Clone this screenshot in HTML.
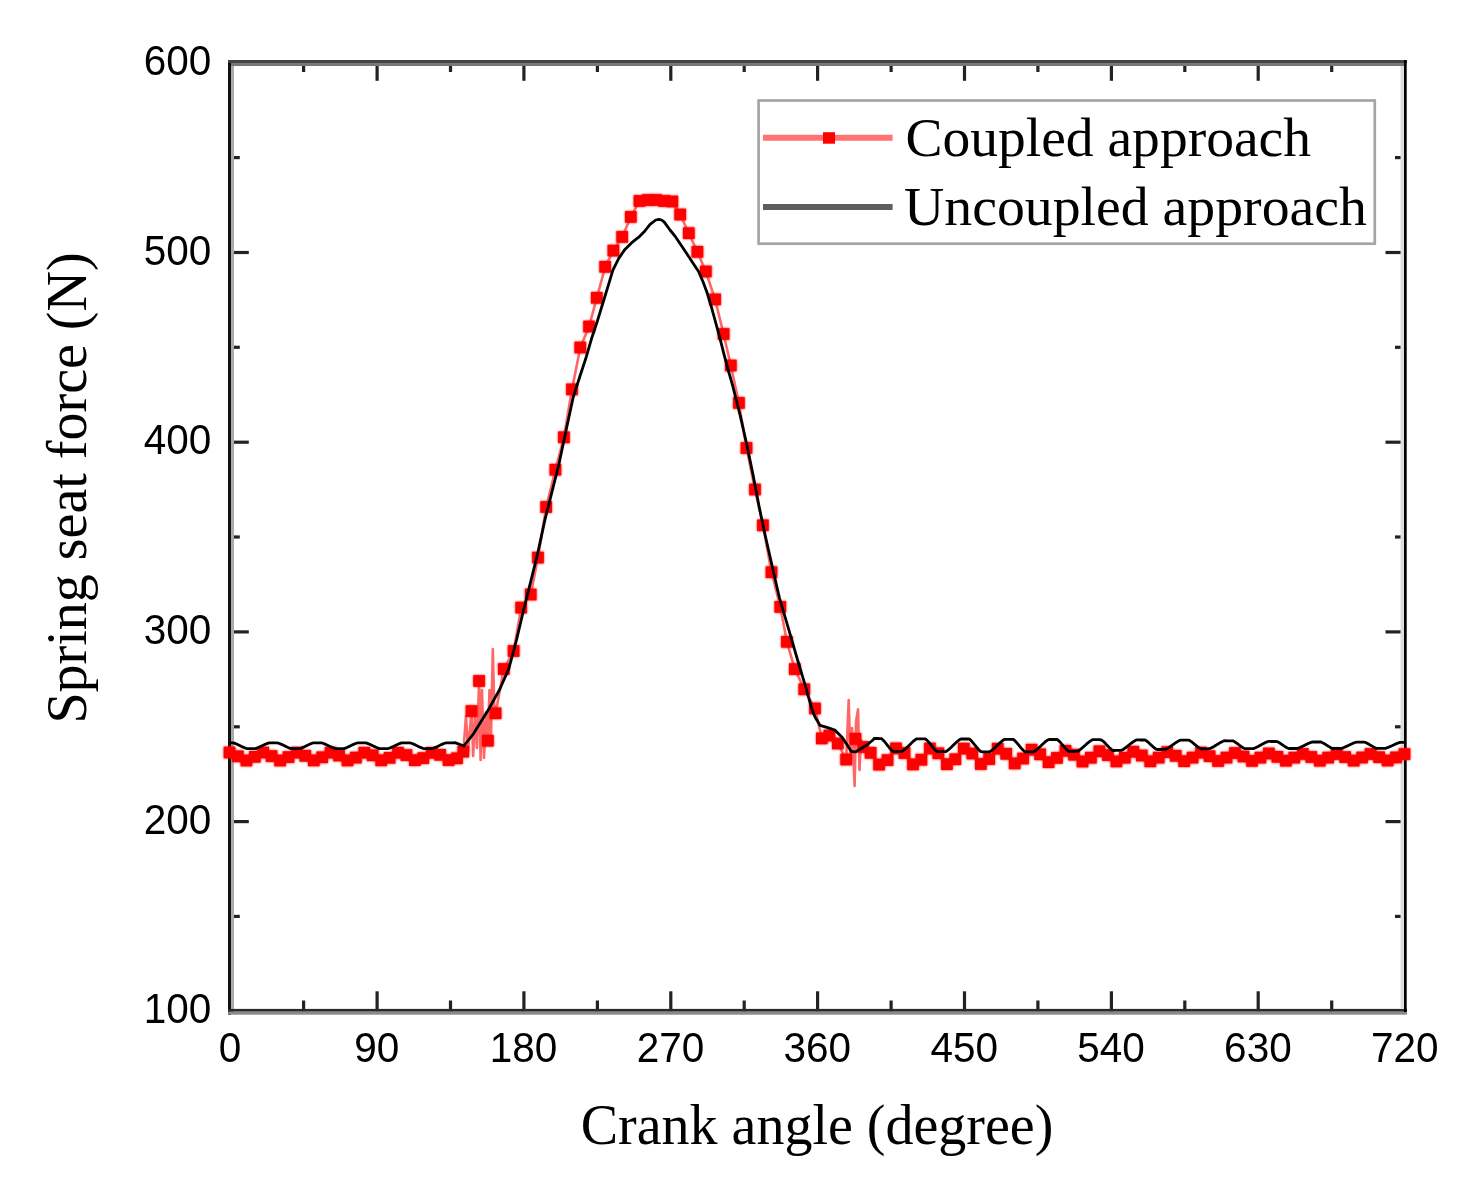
<!DOCTYPE html>
<html><head><meta charset="utf-8"><style>html,body{margin:0;padding:0;background:#fff;}svg{display:block;}</style></head>
<body><svg width="1470" height="1188" viewBox="0 0 1470 1188">
<defs><filter id="halo" x="-5%" y="-5%" width="110%" height="110%"><feGaussianBlur in="SourceGraphic" stdDeviation="1.3" result="bl"/><feMerge><feMergeNode in="bl"/><feMergeNode in="SourceGraphic"/></feMerge></filter></defs>
<rect width="1470" height="1188" fill="#fff"/>
<g fill="none" stroke="#222" stroke-width="3.2"><line x1="303.6" y1="1011.3" x2="303.6" y2="1000.5"/><line x1="303.6" y1="62.8" x2="303.6" y2="72.0"/><line x1="377.1" y1="1011.3" x2="377.1" y2="991.3"/><line x1="377.1" y1="62.8" x2="377.1" y2="80.8"/><line x1="450.5" y1="1011.3" x2="450.5" y2="1000.5"/><line x1="450.5" y1="62.8" x2="450.5" y2="72.0"/><line x1="523.9" y1="1011.3" x2="523.9" y2="991.3"/><line x1="523.9" y1="62.8" x2="523.9" y2="80.8"/><line x1="597.4" y1="1011.3" x2="597.4" y2="1000.5"/><line x1="597.4" y1="62.8" x2="597.4" y2="72.0"/><line x1="670.8" y1="1011.3" x2="670.8" y2="991.3"/><line x1="670.8" y1="62.8" x2="670.8" y2="80.8"/><line x1="744.2" y1="1011.3" x2="744.2" y2="1000.5"/><line x1="744.2" y1="62.8" x2="744.2" y2="72.0"/><line x1="817.6" y1="1011.3" x2="817.6" y2="991.3"/><line x1="817.6" y1="62.8" x2="817.6" y2="80.8"/><line x1="891.1" y1="1011.3" x2="891.1" y2="1000.5"/><line x1="891.1" y1="62.8" x2="891.1" y2="72.0"/><line x1="964.5" y1="1011.3" x2="964.5" y2="991.3"/><line x1="964.5" y1="62.8" x2="964.5" y2="80.8"/><line x1="1037.9" y1="1011.3" x2="1037.9" y2="1000.5"/><line x1="1037.9" y1="62.8" x2="1037.9" y2="72.0"/><line x1="1111.4" y1="1011.3" x2="1111.4" y2="991.3"/><line x1="1111.4" y1="62.8" x2="1111.4" y2="80.8"/><line x1="1184.8" y1="1011.3" x2="1184.8" y2="1000.5"/><line x1="1184.8" y1="62.8" x2="1184.8" y2="72.0"/><line x1="1258.2" y1="1011.3" x2="1258.2" y2="991.3"/><line x1="1258.2" y1="62.8" x2="1258.2" y2="80.8"/><line x1="1331.7" y1="1011.3" x2="1331.7" y2="1000.5"/><line x1="1331.7" y1="62.8" x2="1331.7" y2="72.0"/><line x1="230.3" y1="916.4" x2="239.8" y2="916.4"/><line x1="1405" y1="916.4" x2="1395.0" y2="916.4"/><line x1="230.3" y1="821.6" x2="248.8" y2="821.6"/><line x1="1405" y1="821.6" x2="1385.5" y2="821.6"/><line x1="230.3" y1="726.8" x2="239.8" y2="726.8"/><line x1="1405" y1="726.8" x2="1395.0" y2="726.8"/><line x1="230.3" y1="631.9" x2="248.8" y2="631.9"/><line x1="1405" y1="631.9" x2="1385.5" y2="631.9"/><line x1="230.3" y1="537.0" x2="239.8" y2="537.0"/><line x1="1405" y1="537.0" x2="1395.0" y2="537.0"/><line x1="230.3" y1="442.2" x2="248.8" y2="442.2"/><line x1="1405" y1="442.2" x2="1385.5" y2="442.2"/><line x1="230.3" y1="347.3" x2="239.8" y2="347.3"/><line x1="1405" y1="347.3" x2="1395.0" y2="347.3"/><line x1="230.3" y1="252.5" x2="248.8" y2="252.5"/><line x1="1405" y1="252.5" x2="1385.5" y2="252.5"/><line x1="230.3" y1="157.6" x2="239.8" y2="157.6"/><line x1="1405" y1="157.6" x2="1395.0" y2="157.6"/></g>
<rect x="228" y="60" width="3" height="955" fill="#111"/>
<rect x="231" y="63" width="3" height="949" fill="#aaa"/>
<rect x="228" y="60" width="1179" height="3" fill="#444"/>
<rect x="231" y="63" width="1173" height="3" fill="#777"/>
<rect x="228" y="1008.9" width="1179" height="2.8" fill="#2a2a2a"/>
<rect x="228" y="1011.7" width="1179" height="3" fill="#8a8a8a"/>
<rect x="1400.5" y="66" width="3.5" height="943" fill="#ddd"/>
<rect x="1404" y="60" width="2.7" height="952" fill="#000"/>
<polyline points="229.5,752.5 237.9,756.3 246.4,760.5 254.8,756.8 263.2,752.5 271.6,756.1 280.1,760.5 288.5,757.1 296.9,752.6 305.3,755.8 313.8,760.4 322.2,757.3 330.6,752.6 339.0,755.5 347.5,760.4 355.9,757.6 364.3,752.7 372.7,755.3 381.2,760.3 389.6,757.8 398.0,752.7 406.4,755.1 414.9,760.2 423.3,758.1 431.7,752.8 440.1,754.8 448.6,760.1 457.0,758.3 463.3,751.6 466.0,716.0 468.0,752.0 471.5,711.1 473.2,756.0 475.0,716.0 477.0,748.0 479.1,681.0 480.6,760.0 482.0,690.0 484.0,758.0 486.0,712.0 487.9,740.7 489.5,690.0 491.0,736.0 492.8,649.0 494.2,705.0 495.6,713.3 503.8,669.0 513.6,651.0 521.2,607.6 530.7,594.5 538.0,557.6 546.2,507.0 555.4,469.7 563.9,437.3 572.0,389.4 580.3,347.5 589.1,326.5 596.8,297.8 605.2,266.8 613.4,250.6 622.2,236.9 630.8,216.9 639.5,201.0 647.8,200.0 656.0,200.0 664.3,201.0 672.3,201.5 680.2,214.5 688.8,233.2 697.4,251.8 705.8,271.5 715.1,299.4 723.6,334.0 730.8,365.5 738.9,402.9 746.5,448.0 755.0,489.5 762.9,525.3 771.5,572.2 780.3,606.9 786.9,641.8 794.8,669.1 804.3,689.3 815.0,708.5 821.8,738.4 829.4,735.5 837.8,743.5 846.2,759.5 848.7,700.0 850.5,762.0 852.0,728.0 854.6,786.0 856.0,722.0 858.0,709.4 859.5,770.0 861.0,740.0 863.2,747.0 870.6,752.8 879.1,764.6 887.5,760.1 896.0,748.4 904.5,753.0 913.0,764.4 921.4,759.7 929.9,748.5 938.4,753.3 946.9,764.2 955.3,759.3 963.8,748.6 972.3,753.5 980.8,764.0 989.2,759.0 997.7,748.7 1006.2,753.8 1014.7,763.4 1023.1,758.5 1031.6,749.7 1040.1,754.3 1048.6,762.2 1057.0,757.9 1065.5,750.8 1074.0,754.7 1082.5,761.5 1090.9,757.7 1099.4,751.3 1107.9,755.1 1116.4,761.4 1124.8,757.7 1133.3,751.7 1141.8,755.5 1150.3,761.3 1158.7,757.6 1167.2,752.1 1175.7,755.8 1184.2,761.2 1192.6,757.6 1201.1,752.6 1209.6,756.2 1218.1,761.0 1226.5,757.6 1235.0,753.0 1243.5,756.5 1252.0,760.9 1260.4,757.6 1268.9,753.5 1277.4,756.8 1285.9,760.7 1294.3,757.6 1302.8,753.9 1311.3,757.0 1319.8,760.7 1328.2,757.6 1336.7,754.0 1345.2,757.1 1353.7,760.6 1362.1,757.5 1370.6,754.0 1379.1,757.2 1387.6,760.5 1396.0,757.4 1404.5,754.1" fill="none" stroke="#ff0000" stroke-opacity="0.6" stroke-width="2.6" stroke-linejoin="round"/>
<g fill="#ff0000" filter="url(#halo)"><rect x="223.7" y="746.7" width="11.6" height="11.6"/><rect x="232.1" y="750.5" width="11.6" height="11.6"/><rect x="240.6" y="754.7" width="11.6" height="11.6"/><rect x="249.0" y="751.0" width="11.6" height="11.6"/><rect x="257.4" y="746.7" width="11.6" height="11.6"/><rect x="265.8" y="750.3" width="11.6" height="11.6"/><rect x="274.3" y="754.7" width="11.6" height="11.6"/><rect x="282.7" y="751.3" width="11.6" height="11.6"/><rect x="291.1" y="746.8" width="11.6" height="11.6"/><rect x="299.5" y="750.0" width="11.6" height="11.6"/><rect x="308.0" y="754.6" width="11.6" height="11.6"/><rect x="316.4" y="751.5" width="11.6" height="11.6"/><rect x="324.8" y="746.8" width="11.6" height="11.6"/><rect x="333.2" y="749.7" width="11.6" height="11.6"/><rect x="341.7" y="754.6" width="11.6" height="11.6"/><rect x="350.1" y="751.8" width="11.6" height="11.6"/><rect x="358.5" y="746.9" width="11.6" height="11.6"/><rect x="366.9" y="749.5" width="11.6" height="11.6"/><rect x="375.4" y="754.5" width="11.6" height="11.6"/><rect x="383.8" y="752.0" width="11.6" height="11.6"/><rect x="392.2" y="746.9" width="11.6" height="11.6"/><rect x="400.6" y="749.3" width="11.6" height="11.6"/><rect x="409.1" y="754.4" width="11.6" height="11.6"/><rect x="417.5" y="752.3" width="11.6" height="11.6"/><rect x="425.9" y="747.0" width="11.6" height="11.6"/><rect x="434.3" y="749.0" width="11.6" height="11.6"/><rect x="442.8" y="754.3" width="11.6" height="11.6"/><rect x="451.2" y="752.5" width="11.6" height="11.6"/><rect x="457.5" y="745.8" width="11.6" height="11.6"/><rect x="465.7" y="705.3" width="11.6" height="11.6"/><rect x="473.3" y="675.2" width="11.6" height="11.6"/><rect x="482.1" y="734.9" width="11.6" height="11.6"/><rect x="489.8" y="707.5" width="11.6" height="11.6"/><rect x="498.0" y="663.2" width="11.6" height="11.6"/><rect x="507.8" y="645.2" width="11.6" height="11.6"/><rect x="515.4" y="601.8" width="11.6" height="11.6"/><rect x="524.9" y="588.7" width="11.6" height="11.6"/><rect x="532.2" y="551.8" width="11.6" height="11.6"/><rect x="540.4" y="501.2" width="11.6" height="11.6"/><rect x="549.6" y="463.9" width="11.6" height="11.6"/><rect x="558.1" y="431.5" width="11.6" height="11.6"/><rect x="566.2" y="383.6" width="11.6" height="11.6"/><rect x="574.5" y="341.7" width="11.6" height="11.6"/><rect x="583.3" y="320.7" width="11.6" height="11.6"/><rect x="591.0" y="292.0" width="11.6" height="11.6"/><rect x="599.4" y="261.0" width="11.6" height="11.6"/><rect x="607.6" y="244.8" width="11.6" height="11.6"/><rect x="616.4" y="231.1" width="11.6" height="11.6"/><rect x="625.0" y="211.1" width="11.6" height="11.6"/><rect x="633.7" y="195.2" width="11.6" height="11.6"/><rect x="642.0" y="194.2" width="11.6" height="11.6"/><rect x="650.2" y="194.2" width="11.6" height="11.6"/><rect x="658.5" y="195.2" width="11.6" height="11.6"/><rect x="666.5" y="195.7" width="11.6" height="11.6"/><rect x="674.4" y="208.7" width="11.6" height="11.6"/><rect x="683.0" y="227.4" width="11.6" height="11.6"/><rect x="691.6" y="246.0" width="11.6" height="11.6"/><rect x="700.0" y="265.7" width="11.6" height="11.6"/><rect x="709.3" y="293.6" width="11.6" height="11.6"/><rect x="717.8" y="328.2" width="11.6" height="11.6"/><rect x="725.0" y="359.7" width="11.6" height="11.6"/><rect x="733.1" y="397.1" width="11.6" height="11.6"/><rect x="740.7" y="442.2" width="11.6" height="11.6"/><rect x="749.2" y="483.7" width="11.6" height="11.6"/><rect x="757.1" y="519.5" width="11.6" height="11.6"/><rect x="765.7" y="566.4" width="11.6" height="11.6"/><rect x="774.5" y="601.1" width="11.6" height="11.6"/><rect x="781.1" y="636.0" width="11.6" height="11.6"/><rect x="789.0" y="663.3" width="11.6" height="11.6"/><rect x="798.5" y="683.5" width="11.6" height="11.6"/><rect x="809.2" y="702.7" width="11.6" height="11.6"/><rect x="816.0" y="732.6" width="11.6" height="11.6"/><rect x="823.6" y="729.7" width="11.6" height="11.6"/><rect x="832.0" y="737.7" width="11.6" height="11.6"/><rect x="840.4" y="753.7" width="11.6" height="11.6"/><rect x="849.7" y="733.0" width="11.6" height="11.6"/><rect x="857.4" y="741.2" width="11.6" height="11.6"/><rect x="864.8" y="747.0" width="11.6" height="11.6"/><rect x="873.3" y="758.8" width="11.6" height="11.6"/><rect x="881.7" y="754.3" width="11.6" height="11.6"/><rect x="890.2" y="742.6" width="11.6" height="11.6"/><rect x="898.7" y="747.2" width="11.6" height="11.6"/><rect x="907.2" y="758.6" width="11.6" height="11.6"/><rect x="915.6" y="753.9" width="11.6" height="11.6"/><rect x="924.1" y="742.7" width="11.6" height="11.6"/><rect x="932.6" y="747.5" width="11.6" height="11.6"/><rect x="941.1" y="758.4" width="11.6" height="11.6"/><rect x="949.5" y="753.5" width="11.6" height="11.6"/><rect x="958.0" y="742.8" width="11.6" height="11.6"/><rect x="966.5" y="747.7" width="11.6" height="11.6"/><rect x="975.0" y="758.2" width="11.6" height="11.6"/><rect x="983.4" y="753.2" width="11.6" height="11.6"/><rect x="991.9" y="742.9" width="11.6" height="11.6"/><rect x="1000.4" y="748.0" width="11.6" height="11.6"/><rect x="1008.9" y="757.6" width="11.6" height="11.6"/><rect x="1017.3" y="752.7" width="11.6" height="11.6"/><rect x="1025.8" y="743.9" width="11.6" height="11.6"/><rect x="1034.3" y="748.5" width="11.6" height="11.6"/><rect x="1042.8" y="756.4" width="11.6" height="11.6"/><rect x="1051.2" y="752.1" width="11.6" height="11.6"/><rect x="1059.7" y="745.0" width="11.6" height="11.6"/><rect x="1068.2" y="748.9" width="11.6" height="11.6"/><rect x="1076.7" y="755.7" width="11.6" height="11.6"/><rect x="1085.1" y="751.9" width="11.6" height="11.6"/><rect x="1093.6" y="745.5" width="11.6" height="11.6"/><rect x="1102.1" y="749.3" width="11.6" height="11.6"/><rect x="1110.6" y="755.6" width="11.6" height="11.6"/><rect x="1119.0" y="751.9" width="11.6" height="11.6"/><rect x="1127.5" y="745.9" width="11.6" height="11.6"/><rect x="1136.0" y="749.7" width="11.6" height="11.6"/><rect x="1144.5" y="755.5" width="11.6" height="11.6"/><rect x="1152.9" y="751.8" width="11.6" height="11.6"/><rect x="1161.4" y="746.3" width="11.6" height="11.6"/><rect x="1169.9" y="750.0" width="11.6" height="11.6"/><rect x="1178.4" y="755.4" width="11.6" height="11.6"/><rect x="1186.8" y="751.8" width="11.6" height="11.6"/><rect x="1195.3" y="746.8" width="11.6" height="11.6"/><rect x="1203.8" y="750.4" width="11.6" height="11.6"/><rect x="1212.3" y="755.2" width="11.6" height="11.6"/><rect x="1220.7" y="751.8" width="11.6" height="11.6"/><rect x="1229.2" y="747.2" width="11.6" height="11.6"/><rect x="1237.7" y="750.7" width="11.6" height="11.6"/><rect x="1246.2" y="755.1" width="11.6" height="11.6"/><rect x="1254.6" y="751.8" width="11.6" height="11.6"/><rect x="1263.1" y="747.7" width="11.6" height="11.6"/><rect x="1271.6" y="751.0" width="11.6" height="11.6"/><rect x="1280.1" y="754.9" width="11.6" height="11.6"/><rect x="1288.5" y="751.8" width="11.6" height="11.6"/><rect x="1297.0" y="748.1" width="11.6" height="11.6"/><rect x="1305.5" y="751.2" width="11.6" height="11.6"/><rect x="1314.0" y="754.9" width="11.6" height="11.6"/><rect x="1322.4" y="751.8" width="11.6" height="11.6"/><rect x="1330.9" y="748.2" width="11.6" height="11.6"/><rect x="1339.4" y="751.3" width="11.6" height="11.6"/><rect x="1347.9" y="754.8" width="11.6" height="11.6"/><rect x="1356.3" y="751.7" width="11.6" height="11.6"/><rect x="1364.8" y="748.2" width="11.6" height="11.6"/><rect x="1373.3" y="751.4" width="11.6" height="11.6"/><rect x="1381.8" y="754.7" width="11.6" height="11.6"/><rect x="1390.2" y="751.6" width="11.6" height="11.6"/><rect x="1398.7" y="748.3" width="11.6" height="11.6"/></g>
<polyline points="230.0,742.9 230.5,742.9 231.0,742.9 231.5,742.9 232.0,742.9 232.5,742.9 233.0,742.9 233.5,742.9 234.0,743.1 234.5,743.2 235.0,743.4 235.5,743.6 236.0,743.8 236.5,744.0 237.0,744.2 237.5,744.5 238.0,744.7 238.5,744.9 239.0,745.2 239.5,745.4 240.0,745.7 240.5,745.9 241.0,746.2 241.5,746.4 242.0,746.7 242.5,746.9 243.0,747.1 243.5,747.3 244.0,747.6 244.5,747.8 245.0,748.0 245.5,748.1 246.0,748.3 246.5,748.5 247.0,748.6 247.5,748.6 248.0,748.6 248.5,748.6 249.0,748.6 249.5,748.6 250.0,748.6 250.5,748.6 251.0,748.6 251.5,748.6 252.0,748.6 252.5,748.6 253.0,748.6 253.5,748.6 254.0,748.6 254.5,748.6 255.0,748.6 255.5,748.6 256.0,748.4 256.5,748.3 257.0,748.1 257.5,747.9 258.0,747.7 258.5,747.5 259.0,747.3 259.5,747.1 260.0,746.8 260.5,746.6 261.0,746.4 261.5,746.1 262.0,745.9 262.5,745.6 263.0,745.4 263.5,745.1 264.0,744.9 264.5,744.7 265.0,744.4 265.5,744.2 266.0,744.0 266.5,743.8 267.0,743.6 267.5,743.4 268.0,743.2 268.5,743.1 269.0,742.9 269.5,742.9 270.0,742.9 270.5,742.9 271.0,742.9 271.5,742.9 272.0,742.9 272.5,742.9 273.0,742.9 273.5,742.9 274.0,742.9 274.5,742.9 275.0,742.9 275.5,742.9 276.0,742.9 276.5,742.9 277.0,742.9 277.5,742.9 278.0,743.0 278.5,743.2 279.0,743.4 279.5,743.5 280.0,743.7 280.5,743.9 281.0,744.2 281.5,744.4 282.0,744.6 282.5,744.8 283.0,745.1 283.5,745.3 284.0,745.6 284.5,745.8 285.0,746.1 285.5,746.3 286.0,746.6 286.5,746.8 287.0,747.0 287.5,747.3 288.0,747.5 288.5,747.7 289.0,747.9 289.5,748.1 290.0,748.3 290.5,748.4 291.0,748.6 291.5,748.6 292.0,748.6 292.5,748.6 293.0,748.6 293.5,748.6 294.0,748.6 294.5,748.6 295.0,748.6 295.5,748.6 296.0,748.6 296.5,748.6 297.0,748.6 297.5,748.6 298.0,748.6 298.5,748.6 299.0,748.6 299.5,748.6 300.0,748.5 300.5,748.4 301.0,748.2 301.5,748.0 302.0,747.8 302.5,747.6 303.0,747.4 303.5,747.2 304.0,746.9 304.5,746.7 305.0,746.5 305.5,746.2 306.0,746.0 306.5,745.7 307.0,745.5 307.5,745.2 308.0,745.0 308.5,744.8 309.0,744.5 309.5,744.3 310.0,744.1 310.5,743.9 311.0,743.7 311.5,743.5 312.0,743.3 312.5,743.1 313.0,743.0 313.5,742.9 314.0,742.9 314.5,742.9 315.0,742.9 315.5,742.9 316.0,742.9 316.5,742.9 317.0,742.9 317.5,742.9 318.0,742.9 318.5,742.9 319.0,742.9 319.5,742.9 320.0,742.9 320.5,742.9 321.0,742.9 321.5,742.9 322.0,743.0 322.5,743.1 323.0,743.3 323.5,743.5 324.0,743.7 324.5,743.9 325.0,744.1 325.5,744.3 326.0,744.5 326.5,744.8 327.0,745.0 327.5,745.2 328.0,745.5 328.5,745.7 329.0,746.0 329.5,746.2 330.0,746.5 330.5,746.7 331.0,746.9 331.5,747.2 332.0,747.4 332.5,747.6 333.0,747.8 333.5,748.0 334.0,748.2 334.5,748.4 335.0,748.5 335.5,748.6 336.0,748.6 336.5,748.6 337.0,748.6 337.5,748.6 338.0,748.6 338.5,748.6 339.0,748.6 339.5,748.6 340.0,748.6 340.5,748.6 341.0,748.6 341.5,748.6 342.0,748.6 342.5,748.6 343.0,748.6 343.5,748.6 344.0,748.6 344.5,748.4 345.0,748.3 345.5,748.1 346.0,747.9 346.5,747.7 347.0,747.5 347.5,747.3 348.0,747.0 348.5,746.8 349.0,746.6 349.5,746.3 350.0,746.1 350.5,745.8 351.0,745.6 351.5,745.3 352.0,745.1 352.5,744.8 353.0,744.6 353.5,744.4 354.0,744.2 354.5,743.9 355.0,743.7 355.5,743.5 356.0,743.4 356.5,743.2 357.0,743.0 357.5,742.9 358.0,742.9 358.5,742.9 359.0,742.9 359.5,742.9 360.0,742.9 360.5,742.9 361.0,742.9 361.5,742.9 362.0,742.9 362.5,742.9 363.0,742.9 363.5,742.9 364.0,742.9 364.5,742.9 365.0,742.9 365.5,742.9 366.0,742.9 366.5,743.1 367.0,743.2 367.5,743.4 368.0,743.6 368.5,743.8 369.0,744.0 369.5,744.2 370.0,744.4 370.5,744.7 371.0,744.9 371.5,745.1 372.0,745.4 372.5,745.6 373.0,745.9 373.5,746.1 374.0,746.4 374.5,746.6 375.0,746.8 375.5,747.1 376.0,747.3 376.5,747.5 377.0,747.7 377.5,747.9 378.0,748.1 378.5,748.3 379.0,748.4 379.5,748.6 380.0,748.6 380.5,748.6 381.0,748.6 381.5,748.6 382.0,748.6 382.5,748.6 383.0,748.6 383.5,748.6 384.0,748.6 384.5,748.6 385.0,748.6 385.5,748.6 386.0,748.6 386.5,748.6 387.0,748.6 387.5,748.6 388.0,748.6 388.5,748.5 389.0,748.3 389.5,748.1 390.0,748.0 390.5,747.8 391.0,747.6 391.5,747.3 392.0,747.1 392.5,746.9 393.0,746.7 393.5,746.4 394.0,746.2 394.5,745.9 395.0,745.7 395.5,745.4 396.0,745.2 396.5,744.9 397.0,744.7 397.5,744.5 398.0,744.2 398.5,744.0 399.0,743.8 399.5,743.6 400.0,743.4 400.5,743.2 401.0,743.1 401.5,742.9 402.0,742.9 402.5,742.9 403.0,742.9 403.5,742.9 404.0,742.9 404.5,742.9 405.0,742.9 405.5,742.9 406.0,742.9 406.5,742.9 407.0,742.9 407.5,742.9 408.0,742.9 408.5,742.9 409.0,742.9 409.5,742.9 410.0,742.9 410.5,743.0 411.0,743.1 411.5,743.3 412.0,743.5 412.5,743.7 413.0,743.9 413.5,744.1 414.0,744.3 414.5,744.6 415.0,744.8 415.5,745.0 416.0,745.3 416.5,745.5 417.0,745.8 417.5,746.0 418.0,746.3 418.5,746.5 419.0,746.7 419.5,747.0 420.0,747.2 420.5,747.4 421.0,747.6 421.5,747.8 422.0,748.0 422.5,748.2 423.0,748.4 423.5,748.5 424.0,748.6 424.5,748.6 425.0,748.6 425.5,748.6 426.0,748.6 426.5,748.6 427.0,748.6 427.5,748.6 428.0,748.6 428.5,748.6 429.0,748.6 429.5,748.6 430.0,748.6 430.5,748.6 431.0,748.6 431.5,748.6 432.0,748.6 432.5,748.5 433.0,748.4 433.5,748.2 434.0,748.0 434.5,747.8 435.0,747.6 435.5,747.4 436.0,747.2 436.5,747.0 437.0,746.7 437.5,746.5 438.0,746.3 438.5,746.0 439.0,745.8 439.5,745.5 440.0,745.3 440.5,745.0 441.0,744.8 441.5,744.6 442.0,744.3 442.5,744.1 443.0,743.9 443.5,743.7 444.0,743.5 444.5,743.3 445.0,743.1 445.5,743.0 446.0,742.9 446.5,742.9 447.0,742.9 447.5,742.9 448.0,742.9 448.5,742.9 449.0,742.9 449.5,742.9 450.0,742.9 450.5,742.9 451.0,742.9 451.5,742.9 452.0,742.9 452.5,742.9 453.0,742.9 453.5,742.9 454.0,742.9 455.0,742.6 463.8,746.0 473.9,733.1 487.3,711.6 499.4,690.0 508.9,668.5 516.5,640.0 523.6,610.0 530.7,581.7 537.7,553.4 544.8,520.4 551.9,492.1 559.0,463.8 566.0,430.8 573.1,397.7 580.0,376.0 585.7,358.8 591.5,338.8 597.2,321.6 602.9,303.0 608.6,284.4 612.9,270.1 618.6,258.6 624.4,250.1 631.5,242.9 638.7,237.2 644.4,231.5 650.1,224.3 655.8,220.0 658.8,219.3 661.6,220.0 664.3,222.2 670.0,230.0 675.8,237.2 681.5,245.8 687.2,254.3 692.9,262.9 698.6,271.5 702.9,281.5 707.2,293.0 711.5,307.3 715.8,323.0 720.1,338.8 724.4,355.9 727.6,368.0 732.6,385.3 740.2,415.6 746.5,443.3 752.8,473.6 759.1,506.5 765.5,536.8 771.8,564.5 779.3,597.4 788.2,627.7 797.0,658.0 805.6,686.6 811.7,708.5 815.0,717.0 820.1,725.4 828.5,727.9 835.3,730.4 842.0,737.2 847.1,744.7 851.3,751.5 855.5,751.9 860.5,749.0 867.3,744.7 873.2,739.7 874.0,738.5 874.5,738.5 875.0,738.5 875.5,738.5 876.0,738.5 876.5,738.5 877.0,738.5 877.5,738.5 878.0,738.5 878.5,738.5 879.0,738.5 879.5,738.6 880.0,738.6 880.5,738.6 881.0,738.6 881.5,738.7 882.0,739.1 882.5,739.5 883.0,740.0 883.5,740.5 884.0,741.1 884.5,741.6 885.0,742.2 885.5,742.8 886.0,743.4 886.5,744.1 887.0,744.7 887.5,745.4 888.0,746.0 888.5,746.6 889.0,747.3 889.5,747.9 890.0,748.5 890.5,749.0 891.0,749.6 891.5,750.1 892.0,750.6 892.5,751.0 893.0,751.4 893.5,751.6 894.0,751.6 894.5,751.6 895.0,751.6 895.5,751.6 896.0,751.6 896.5,751.6 897.0,751.6 897.5,751.6 898.0,751.6 898.5,751.6 899.0,751.6 899.5,751.6 900.0,751.6 900.5,751.6 901.0,751.6 901.5,751.6 902.0,751.4 902.5,751.1 903.0,750.8 903.5,750.4 904.0,750.0 904.5,749.6 905.0,749.2 905.5,748.8 906.0,748.3 906.5,747.8 907.0,747.4 907.5,746.9 908.0,746.4 908.5,745.9 909.0,745.4 909.5,744.9 910.0,744.4 910.5,743.9 911.0,743.4 911.5,742.9 912.0,742.5 912.5,742.0 913.0,741.5 913.5,741.1 914.0,740.7 914.5,740.3 915.0,739.9 915.5,739.6 916.0,739.2 916.5,738.9 917.0,738.8 917.5,738.8 918.0,738.8 918.5,738.8 919.0,738.8 919.5,738.8 920.0,738.8 920.5,738.8 921.0,738.8 921.5,738.8 922.0,738.8 922.5,738.8 923.0,738.8 923.5,738.8 924.0,738.8 924.5,738.8 925.0,738.8 925.5,739.0 926.0,739.4 926.5,739.8 927.0,740.3 927.5,740.8 928.0,741.3 928.5,741.9 929.0,742.5 929.5,743.1 930.0,743.7 930.5,744.3 931.0,745.0 931.5,745.6 932.0,746.2 932.5,746.9 933.0,747.5 933.5,748.1 934.0,748.7 934.5,749.2 935.0,749.7 935.5,750.3 936.0,750.7 936.5,751.2 937.0,751.6 937.5,751.7 938.0,751.7 938.5,751.7 939.0,751.7 939.5,751.7 940.0,751.7 940.5,751.7 941.0,751.7 941.5,751.7 942.0,751.7 942.5,751.7 943.0,751.7 943.5,751.7 944.0,751.7 944.5,751.7 945.0,751.7 945.5,751.7 946.0,751.5 946.5,751.2 947.0,750.8 947.5,750.5 948.0,750.1 948.5,749.7 949.0,749.3 949.5,748.8 950.0,748.4 950.5,747.9 951.0,747.5 951.5,747.0 952.0,746.5 952.5,746.0 953.0,745.5 953.5,745.0 954.0,744.5 954.5,744.0 955.0,743.6 955.5,743.1 956.0,742.6 956.5,742.2 957.0,741.7 957.5,741.3 958.0,740.9 958.5,740.5 959.0,740.1 959.5,739.8 960.0,739.4 960.5,739.1 961.0,739.0 961.5,739.0 962.0,739.0 962.5,739.0 963.0,739.0 963.5,739.0 964.0,739.0 964.5,739.0 965.0,739.0 965.5,739.0 966.0,739.0 966.5,739.0 967.0,739.0 967.5,739.0 968.0,739.0 968.5,739.0 969.0,739.0 969.5,739.2 970.0,739.6 970.5,740.1 971.0,740.6 971.5,741.1 972.0,741.6 972.5,742.2 973.0,742.7 973.5,743.3 974.0,743.9 974.5,744.6 975.0,745.2 975.5,745.8 976.0,746.5 976.5,747.1 977.0,747.7 977.5,748.3 978.0,748.8 978.5,749.4 979.0,749.9 979.5,750.4 980.0,750.9 980.5,751.3 981.0,751.7 981.5,751.7 982.0,751.7 982.5,751.8 983.0,751.8 983.5,751.8 984.0,751.8 984.5,751.8 985.0,751.8 985.5,751.8 986.0,751.8 986.5,751.8 987.0,751.8 987.5,751.8 988.0,751.8 988.5,751.8 989.0,751.8 989.5,751.8 990.0,751.5 990.5,751.2 991.0,750.9 991.5,750.5 992.0,750.2 992.5,749.8 993.0,749.4 993.5,748.9 994.0,748.5 994.5,748.0 995.0,747.6 995.5,747.1 996.0,746.6 996.5,746.1 997.0,745.6 997.5,745.1 998.0,744.7 998.5,744.2 999.0,743.7 999.5,743.2 1000.0,742.8 1000.5,742.3 1001.0,741.9 1001.5,741.5 1002.0,741.1 1002.5,740.7 1003.0,740.3 1003.5,740.0 1004.0,739.6 1004.5,739.3 1005.0,739.3 1005.5,739.3 1006.0,739.3 1006.5,739.3 1007.0,739.3 1007.5,739.3 1008.0,739.3 1008.5,739.3 1009.0,739.3 1009.5,739.3 1010.0,739.3 1010.5,739.3 1011.0,739.3 1011.5,739.3 1012.0,739.3 1012.5,739.3 1013.0,739.3 1013.5,739.5 1014.0,739.9 1014.5,740.4 1015.0,740.8 1015.5,741.3 1016.0,741.9 1016.5,742.4 1017.0,743.0 1017.5,743.6 1018.0,744.2 1018.5,744.8 1019.0,745.4 1019.5,746.1 1020.0,746.7 1020.5,747.3 1021.0,747.9 1021.5,748.5 1022.0,749.0 1022.5,749.6 1023.0,750.1 1023.5,750.6 1024.0,751.0 1024.5,751.4 1025.0,751.8 1025.5,751.8 1026.0,751.8 1026.5,751.8 1027.0,751.8 1027.5,751.9 1028.0,751.9 1028.5,751.9 1029.0,751.9 1029.5,751.9 1030.0,751.9 1030.5,751.9 1031.0,751.9 1031.5,751.9 1032.0,751.9 1032.5,751.9 1033.0,751.9 1033.5,751.9 1034.0,751.6 1034.5,751.3 1035.0,751.0 1035.5,750.6 1036.0,750.2 1036.5,749.8 1037.0,749.4 1037.5,749.0 1038.0,748.6 1038.5,748.1 1039.0,747.7 1039.5,747.2 1040.0,746.7 1040.5,746.2 1041.0,745.8 1041.5,745.3 1042.0,744.8 1042.5,744.3 1043.0,743.8 1043.5,743.4 1044.0,742.9 1044.5,742.5 1045.0,742.1 1045.5,741.6 1046.0,741.2 1046.5,740.9 1047.0,740.5 1047.5,740.2 1048.0,739.9 1048.5,739.6 1049.0,739.5 1049.5,739.5 1050.0,739.5 1050.5,739.5 1051.0,739.5 1051.5,739.5 1052.0,739.5 1052.5,739.5 1053.0,739.5 1053.5,739.5 1054.0,739.5 1054.5,739.5 1055.0,739.5 1055.5,739.5 1056.0,739.5 1056.5,739.5 1057.0,739.5 1057.5,739.8 1058.0,740.2 1058.5,740.6 1059.0,741.1 1059.5,741.6 1060.0,742.1 1060.5,742.6 1061.0,743.2 1061.5,743.7 1062.0,744.3 1062.5,744.9 1063.0,745.5 1063.5,746.1 1064.0,746.7 1064.5,747.3 1065.0,747.8 1065.5,748.4 1066.0,748.9 1066.5,749.4 1067.0,749.9 1067.5,750.3 1068.0,750.8 1068.5,751.1 1069.0,751.5 1069.5,751.5 1070.0,751.5 1070.5,751.4 1071.0,751.4 1071.5,751.4 1072.0,751.4 1072.5,751.4 1073.0,751.4 1073.5,751.4 1074.0,751.4 1074.5,751.4 1075.0,751.3 1075.5,751.3 1076.0,751.3 1076.5,751.3 1077.0,751.3 1077.5,751.3 1078.0,751.0 1078.5,750.7 1079.0,750.4 1079.5,750.0 1080.0,749.7 1080.5,749.3 1081.0,748.9 1081.5,748.5 1082.0,748.1 1082.5,747.7 1083.0,747.2 1083.5,746.8 1084.0,746.3 1084.5,745.9 1085.0,745.4 1085.5,745.0 1086.0,744.5 1086.5,744.1 1087.0,743.7 1087.5,743.2 1088.0,742.8 1088.5,742.4 1089.0,742.0 1089.5,741.6 1090.0,741.3 1090.5,740.9 1091.0,740.6 1091.5,740.3 1092.0,740.0 1092.5,739.7 1093.0,739.7 1093.5,739.7 1094.0,739.7 1094.5,739.7 1095.0,739.7 1095.5,739.7 1096.0,739.7 1096.5,739.7 1097.0,739.7 1097.5,739.7 1098.0,739.7 1098.5,739.7 1099.0,739.7 1099.5,739.7 1100.0,739.8 1100.5,739.8 1101.0,739.8 1101.5,740.0 1102.0,740.4 1102.5,740.8 1103.0,741.2 1103.5,741.6 1104.0,742.1 1104.5,742.6 1105.0,743.1 1105.5,743.6 1106.0,744.1 1106.5,744.7 1107.0,745.2 1107.5,745.7 1108.0,746.3 1108.5,746.8 1109.0,747.3 1109.5,747.8 1110.0,748.2 1110.5,748.7 1111.0,749.1 1111.5,749.5 1112.0,749.9 1112.5,750.2 1113.0,750.5 1113.5,750.5 1114.0,750.5 1114.5,750.5 1115.0,750.5 1115.5,750.4 1116.0,750.4 1116.5,750.4 1117.0,750.4 1117.5,750.4 1118.0,750.4 1118.5,750.4 1119.0,750.4 1119.5,750.4 1120.0,750.4 1120.5,750.3 1121.0,750.3 1121.5,750.3 1122.0,750.0 1122.5,749.8 1123.0,749.5 1123.5,749.2 1124.0,748.8 1124.5,748.5 1125.0,748.1 1125.5,747.8 1126.0,747.4 1126.5,747.0 1127.0,746.6 1127.5,746.2 1128.0,745.8 1128.5,745.4 1129.0,745.0 1129.5,744.6 1130.0,744.2 1130.5,743.8 1131.0,743.4 1131.5,743.0 1132.0,742.7 1132.5,742.3 1133.0,742.0 1133.5,741.6 1134.0,741.3 1134.5,741.0 1135.0,740.7 1135.5,740.4 1136.0,740.2 1136.5,739.9 1137.0,739.9 1137.5,739.9 1138.0,739.9 1138.5,739.9 1139.0,739.9 1139.5,739.9 1140.0,740.0 1140.5,740.0 1141.0,740.0 1141.5,740.0 1142.0,740.0 1142.5,740.0 1143.0,740.0 1143.5,740.0 1144.0,740.0 1144.5,740.0 1145.0,740.0 1145.5,740.2 1146.0,740.6 1146.5,740.9 1147.0,741.3 1147.5,741.7 1148.0,742.1 1148.5,742.5 1149.0,743.0 1149.5,743.4 1150.0,743.9 1150.5,744.4 1151.0,744.9 1151.5,745.3 1152.0,745.8 1152.5,746.3 1153.0,746.7 1153.5,747.2 1154.0,747.6 1154.5,748.0 1155.0,748.3 1155.5,748.7 1156.0,749.0 1156.5,749.3 1157.0,749.5 1157.5,749.5 1158.0,749.5 1158.5,749.5 1159.0,749.5 1159.5,749.5 1160.0,749.5 1160.5,749.5 1161.0,749.4 1161.5,749.4 1162.0,749.4 1162.5,749.4 1163.0,749.4 1163.5,749.4 1164.0,749.4 1164.5,749.4 1165.0,749.4 1165.5,749.3 1166.0,749.1 1166.5,748.8 1167.0,748.6 1167.5,748.3 1168.0,748.0 1168.5,747.7 1169.0,747.4 1169.5,747.1 1170.0,746.7 1170.5,746.4 1171.0,746.0 1171.5,745.7 1172.0,745.3 1172.5,745.0 1173.0,744.6 1173.5,744.3 1174.0,743.9 1174.5,743.5 1175.0,743.2 1175.5,742.9 1176.0,742.5 1176.5,742.2 1177.0,741.9 1177.5,741.6 1178.0,741.3 1178.5,741.1 1179.0,740.8 1179.5,740.6 1180.0,740.3 1180.5,740.2 1181.0,740.2 1181.5,740.2 1182.0,740.2 1182.5,740.2 1183.0,740.2 1183.5,740.2 1184.0,740.2 1184.5,740.2 1185.0,740.2 1185.5,740.2 1186.0,740.2 1186.5,740.2 1187.0,740.2 1187.5,740.2 1188.0,740.2 1188.5,740.2 1189.0,740.2 1189.5,740.5 1190.0,740.7 1190.5,741.1 1191.0,741.4 1191.5,741.8 1192.0,742.1 1192.5,742.5 1193.0,742.9 1193.5,743.3 1194.0,743.8 1194.5,744.2 1195.0,744.6 1195.5,745.0 1196.0,745.4 1196.5,745.9 1197.0,746.3 1197.5,746.6 1198.0,747.0 1198.5,747.4 1199.0,747.7 1199.5,748.0 1200.0,748.3 1200.5,748.6 1201.0,748.8 1201.5,748.8 1202.0,748.8 1202.5,748.8 1203.0,748.8 1203.5,748.8 1204.0,748.8 1204.5,748.8 1205.0,748.8 1205.5,748.8 1206.0,748.8 1206.5,748.8 1207.0,748.8 1207.5,748.8 1208.0,748.8 1208.5,748.7 1209.0,748.7 1209.5,748.7 1210.0,748.5 1210.5,748.3 1211.0,748.1 1211.5,747.8 1212.0,747.6 1212.5,747.3 1213.0,747.0 1213.5,746.7 1214.0,746.5 1214.5,746.2 1215.0,745.8 1215.5,745.5 1216.0,745.2 1216.5,744.9 1217.0,744.6 1217.5,744.3 1218.0,744.0 1218.5,743.7 1219.0,743.4 1219.5,743.1 1220.0,742.8 1220.5,742.5 1221.0,742.2 1221.5,742.0 1222.0,741.7 1222.5,741.5 1223.0,741.3 1223.5,741.1 1224.0,740.9 1224.5,740.7 1225.0,740.7 1225.5,740.7 1226.0,740.8 1226.5,740.8 1227.0,740.8 1227.5,740.8 1228.0,740.8 1228.5,740.8 1229.0,740.8 1229.5,740.8 1230.0,740.8 1230.5,740.8 1231.0,740.8 1231.5,740.8 1232.0,740.8 1232.5,740.9 1233.0,740.9 1233.5,741.1 1234.0,741.4 1234.5,741.7 1235.0,742.0 1235.5,742.3 1236.0,742.7 1236.5,743.0 1237.0,743.4 1237.5,743.8 1238.0,744.1 1238.5,744.5 1239.0,744.9 1239.5,745.3 1240.0,745.7 1240.5,746.0 1241.0,746.4 1241.5,746.8 1242.0,747.1 1242.5,747.4 1243.0,747.7 1243.5,748.0 1244.0,748.3 1244.5,748.5 1245.0,748.6 1245.5,748.6 1246.0,748.6 1246.5,748.6 1247.0,748.6 1247.5,748.6 1248.0,748.6 1248.5,748.6 1249.0,748.6 1249.5,748.6 1250.0,748.6 1250.5,748.6 1251.0,748.6 1251.5,748.6 1252.0,748.6 1252.5,748.6 1253.0,748.6 1253.5,748.6 1254.0,748.4 1254.5,748.2 1255.0,748.0 1255.5,747.8 1256.0,747.5 1256.5,747.3 1257.0,747.0 1257.5,746.8 1258.0,746.5 1258.5,746.3 1259.0,746.0 1259.5,745.7 1260.0,745.4 1260.5,745.1 1261.0,744.9 1261.5,744.6 1262.0,744.3 1262.5,744.0 1263.0,743.8 1263.5,743.5 1264.0,743.2 1264.5,743.0 1265.0,742.7 1265.5,742.5 1266.0,742.3 1266.5,742.1 1267.0,741.9 1267.5,741.7 1268.0,741.5 1268.5,741.4 1269.0,741.4 1269.5,741.4 1270.0,741.4 1270.5,741.4 1271.0,741.5 1271.5,741.5 1272.0,741.5 1272.5,741.5 1273.0,741.5 1273.5,741.5 1274.0,741.5 1274.5,741.5 1275.0,741.5 1275.5,741.5 1276.0,741.5 1276.5,741.5 1277.0,741.6 1277.5,741.8 1278.0,742.0 1278.5,742.3 1279.0,742.6 1279.5,742.9 1280.0,743.2 1280.5,743.5 1281.0,743.8 1281.5,744.2 1282.0,744.5 1282.5,744.9 1283.0,745.2 1283.5,745.6 1284.0,745.9 1284.5,746.2 1285.0,746.6 1285.5,746.9 1286.0,747.2 1286.5,747.5 1287.0,747.7 1287.5,748.0 1288.0,748.2 1288.5,748.4 1289.0,748.5 1289.5,748.5 1290.0,748.5 1290.5,748.5 1291.0,748.5 1291.5,748.5 1292.0,748.5 1292.5,748.5 1293.0,748.5 1293.5,748.5 1294.0,748.5 1294.5,748.5 1295.0,748.5 1295.5,748.5 1296.0,748.5 1296.5,748.5 1297.0,748.5 1297.5,748.4 1298.0,748.3 1298.5,748.1 1299.0,747.9 1299.5,747.7 1300.0,747.5 1300.5,747.3 1301.0,747.1 1301.5,746.8 1302.0,746.6 1302.5,746.4 1303.0,746.1 1303.5,745.9 1304.0,745.6 1304.5,745.4 1305.0,745.1 1305.5,744.8 1306.0,744.6 1306.5,744.3 1307.0,744.1 1307.5,743.9 1308.0,743.6 1308.5,743.4 1309.0,743.2 1309.5,743.0 1310.0,742.8 1310.5,742.6 1311.0,742.4 1311.5,742.2 1312.0,742.1 1312.5,742.0 1313.0,742.0 1313.5,742.0 1314.0,742.0 1314.5,742.0 1315.0,742.0 1315.5,742.0 1316.0,742.0 1316.5,742.0 1317.0,742.0 1317.5,742.0 1318.0,742.0 1318.5,742.0 1319.0,742.0 1319.5,742.0 1320.0,742.0 1320.5,742.0 1321.0,742.0 1321.5,742.3 1322.0,742.5 1322.5,742.7 1323.0,743.0 1323.5,743.2 1324.0,743.5 1324.5,743.8 1325.0,744.1 1325.5,744.4 1326.0,744.8 1326.5,745.1 1327.0,745.4 1327.5,745.7 1328.0,746.0 1328.5,746.3 1329.0,746.6 1329.5,746.9 1330.0,747.2 1330.5,747.5 1331.0,747.7 1331.5,748.0 1332.0,748.2 1332.5,748.4 1333.0,748.5 1333.5,748.5 1334.0,748.5 1334.5,748.5 1335.0,748.5 1335.5,748.5 1336.0,748.5 1336.5,748.5 1337.0,748.5 1337.5,748.5 1338.0,748.5 1338.5,748.5 1339.0,748.5 1339.5,748.5 1340.0,748.5 1340.5,748.5 1341.0,748.5 1341.5,748.4 1342.0,748.2 1342.5,748.1 1343.0,747.9 1343.5,747.7 1344.0,747.5 1344.5,747.3 1345.0,747.1 1345.5,746.8 1346.0,746.6 1346.5,746.4 1347.0,746.1 1347.5,745.9 1348.0,745.7 1348.5,745.4 1349.0,745.2 1349.5,744.9 1350.0,744.7 1350.5,744.4 1351.0,744.2 1351.5,744.0 1352.0,743.7 1352.5,743.5 1353.0,743.3 1353.5,743.1 1354.0,742.9 1354.5,742.7 1355.0,742.5 1355.5,742.4 1356.0,742.2 1356.5,742.2 1357.0,742.2 1357.5,742.2 1358.0,742.2 1358.5,742.2 1359.0,742.2 1359.5,742.2 1360.0,742.2 1360.5,742.2 1361.0,742.2 1361.5,742.2 1362.0,742.2 1362.5,742.2 1363.0,742.2 1363.5,742.2 1364.0,742.2 1364.5,742.2 1365.0,742.3 1365.5,742.5 1366.0,742.7 1366.5,742.9 1367.0,743.2 1367.5,743.4 1368.0,743.7 1368.5,744.0 1369.0,744.3 1369.5,744.6 1370.0,744.9 1370.5,745.2 1371.0,745.5 1371.5,745.8 1372.0,746.1 1372.5,746.4 1373.0,746.7 1373.5,747.0 1374.0,747.3 1374.5,747.5 1375.0,747.8 1375.5,748.0 1376.0,748.2 1376.5,748.4 1377.0,748.4 1377.5,748.4 1378.0,748.4 1378.5,748.4 1379.0,748.4 1379.5,748.4 1380.0,748.4 1380.5,748.4 1381.0,748.4 1381.5,748.4 1382.0,748.4 1382.5,748.4 1383.0,748.4 1383.5,748.4 1384.0,748.4 1384.5,748.4 1385.0,748.4 1385.5,748.3 1386.0,748.2 1386.5,748.0 1387.0,747.8 1387.5,747.7 1388.0,747.5 1388.5,747.3 1389.0,747.1 1389.5,746.8 1390.0,746.6 1390.5,746.4 1391.0,746.2 1391.5,745.9 1392.0,745.7 1392.5,745.5 1393.0,745.2 1393.5,745.0 1394.0,744.8 1394.5,744.5 1395.0,744.3 1395.5,744.1 1396.0,743.9 1396.5,743.6 1397.0,743.4 1397.5,743.2 1398.0,743.1 1398.5,742.9 1399.0,742.7 1399.5,742.6 1400.0,742.4 1400.5,742.4 1401.0,742.4 1401.5,742.4 1402.0,742.4 1402.5,742.4 1403.0,742.4 1403.5,742.4 1404.0,742.4 1404.5,742.4 1405.0,742.4" fill="none" stroke="#000" stroke-width="2.8" stroke-linejoin="round"/>
<g font-family="Liberation Sans, Arial, sans-serif" font-size="40.5" fill="#000" text-anchor="middle"><text transform="translate(229.9,1062.2) scale(1,1.07)">0</text><text transform="translate(376.8,1062.2) scale(1,1.07)">90</text><text transform="translate(523.6,1062.2) scale(1,1.07)">180</text><text transform="translate(670.5,1062.2) scale(1,1.07)">270</text><text transform="translate(817.3,1062.2) scale(1,1.07)">360</text><text transform="translate(964.2,1062.2) scale(1,1.07)">450</text><text transform="translate(1111.1,1062.2) scale(1,1.07)">540</text><text transform="translate(1257.9,1062.2) scale(1,1.07)">630</text><text transform="translate(1404.8,1062.2) scale(1,1.07)">720</text></g>
<g font-family="Liberation Sans, Arial, sans-serif" font-size="40.5" fill="#000" text-anchor="end"><text transform="translate(211.3,1023.3) scale(1,1.07)">100</text><text transform="translate(211.3,833.6) scale(1,1.07)">200</text><text transform="translate(211.3,643.9) scale(1,1.07)">300</text><text transform="translate(211.3,454.2) scale(1,1.07)">400</text><text transform="translate(211.3,264.5) scale(1,1.07)">500</text><text transform="translate(211.3,74.8) scale(1,1.07)">600</text></g>
<text x="817" y="1144.4" font-family="Liberation Serif, Times New Roman, serif" font-size="56" text-anchor="middle">Crank angle (degree)</text>
<text transform="translate(86,488) rotate(-90)" font-family="Liberation Serif, Times New Roman, serif" font-size="56" text-anchor="middle">Spring seat force (N)</text>
<rect x="758.6" y="100.5" width="616.2" height="143.2" fill="#fff" stroke="#a5a5a5" stroke-width="2.7"/>
<line x1="763" y1="137.8" x2="892.6" y2="137.8" stroke="#ff0000" stroke-opacity="0.55" stroke-width="6"/>
<rect x="823" y="132.2" width="12" height="11.5" fill="#ff0000"/>
<line x1="763" y1="207" x2="892.6" y2="207" stroke="#5e5e5e" stroke-width="6"/>
<g font-family="Liberation Serif, Times New Roman, serif" font-size="56" fill="#000">
<text transform="translate(905.4,155.6) scale(0.992,0.97)">Coupled approach</text>
<text transform="translate(904,224.5) scale(0.996,0.98)">Uncoupled approach</text>
</g>
</svg></body></html>
